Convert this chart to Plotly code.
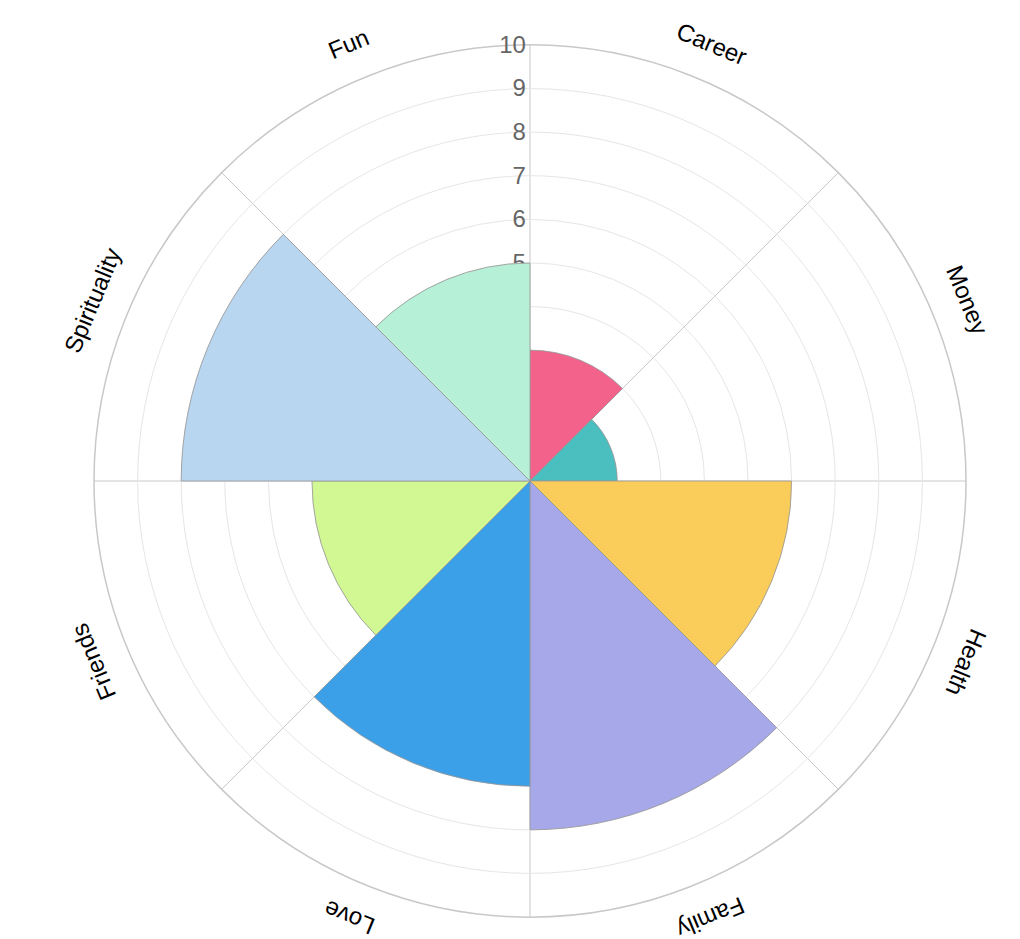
import plotly.graph_objects as go
import math

categories = ["Career", "Money", "Health", "Family", "Love", "Friends", "Spirituality", "Fun"]
values = [3, 2, 6, 8, 7, 5, 8, 5]
colors = ["#F2628A", "#4BBFC0", "#FACD5A", "#A6A8EA", "#3BA0E8", "#D2F894", "#B9D6F0", "#B6F0D7"]
radial_ticks = [1, 2, 3, 4, 5, 6, 7, 8, 9, 10]

n = len(categories)
width = 360 / n
thetas = [width * (i + 0.5) for i in range(n)]

fig = go.Figure()
fig.add_trace(go.Barpolar(
    r=values,
    theta=thetas,
    width=[width] * n,
    marker=dict(color=colors, line=dict(color="rgba(150,150,150,0.8)", width=1)),
    hoverinfo="skip",
    showlegend=False,
))

L, R, T, B = 94, 54, 45, 22
fig.update_layout(
    width=1020, height=939,
    margin=dict(l=L, r=R, t=T, b=B),
    paper_bgcolor="white",
    plot_bgcolor="white",
    font=dict(family="Liberation Sans, Arial, sans-serif"),
    polar=dict(
        bgcolor="white",
        domain=dict(x=[0, 1], y=[0, 1]),
        bargap=0,
        radialaxis=dict(
            range=[0, 10],
            tickvals=radial_ticks,
            showline=False,
            ticks="",
            gridcolor="#e6e6e6",
            gridwidth=1,
            angle=90,
            side="counterclockwise",
            tickangle=90,
            tickfont=dict(size=24, color="#666666"),
            layer="below traces",
        ),
        angularaxis=dict(
            rotation=90,
            direction="clockwise",
            tickvals=[width * i for i in range(n)],
            showticklabels=False,
            ticks="",
            gridcolor="#c8c8c8",
            gridwidth=1,
            showline=True,
            linecolor="#c8c8c8",
            linewidth=1.5,
            layer="below traces",
        ),
    ),
)

# Category labels, rotated tangentially around the outer circle
label_r = 1.085
for name, th in zip(categories, thetas):
    rad = math.radians(th)
    ang = th if th <= 180 else th - 360
    fig.add_annotation(
        x=0.5 + 0.5 * label_r * math.sin(rad),
        y=0.5 + 0.5 * label_r * math.cos(rad),
        xref="paper", yref="paper",
        text=name,
        showarrow=False,
        textangle=ang,
        xanchor="center", yanchor="middle",
        font=dict(size=24, color="#000000", family="Liberation Sans, Arial, sans-serif"),
    )

fig.write_html("out.html")
